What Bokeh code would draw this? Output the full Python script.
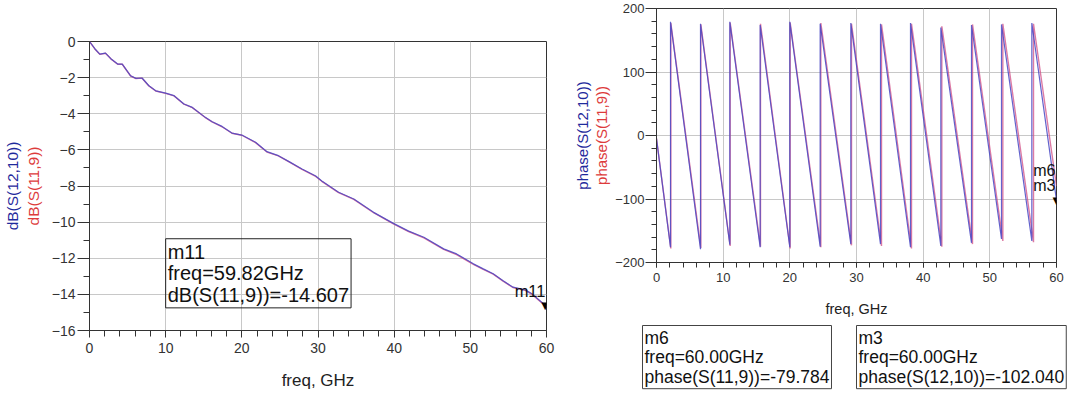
from bokeh.plotting import figure
from bokeh.models import Range1d, SingleIntervalTicker, FixedTicker, Label, LinearAxis
from bokeh.layouts import row, column
from bokeh.embed import file_html
from bokeh.resources import INLINE

FONT = "Liberation Sans"
BLUE_TXT = "#1f2a9c"
RED_TXT = "#dd3b3b"
BLUE_LN = "#4848c4"
RED_LN = "#d24f86"

# ---------------- data: magnitude (dB) ----------------
db_freq = [0, 0.7, 1.35, 2.1, 2.8, 3.7, 4.3, 5.4, 6.1, 6.9, 7.8, 8.7, 10.0, 11.1, 12.4,
           13.5, 15.2, 16.1, 17.4, 18.7, 20.0, 21.8, 23.3, 24.8, 26.2, 27.9, 29.7, 30.5,
           32.7, 34.7, 37.3, 39.9, 41.9, 43.9, 46.5, 48.2, 50.4, 51.7, 53.0, 54.3, 55.6,
           57.2, 58.1, 59.6, 60.0]
db_s12_10 = [0, -0.40, -0.70, -0.64, -0.95, -1.25, -1.25, -1.90, -2.04, -2.02, -2.45, -2.73,
             -2.86, -3.00, -3.46, -3.65, -4.20, -4.44, -4.70, -5.07, -5.18, -5.58, -6.10,
             -6.32, -6.65, -7.06, -7.45, -7.72, -8.35, -8.72, -9.46, -10.07, -10.50, -10.84,
             -11.48, -11.76, -12.31, -12.59, -12.86, -13.24, -13.60, -13.75, -13.97, -14.52,
             -14.64]
db_s11_9 = [0, -0.41, -0.71, -0.65, -0.96, -1.26, -1.26, -1.91, -2.05, -2.03, -2.46, -2.74,
            -2.87, -3.01, -3.47, -3.66, -4.21, -4.45, -4.72, -5.08, -5.19, -5.60, -6.12,
            -6.33, -6.67, -7.08, -7.47, -7.74, -8.37, -8.74, -9.48, -10.10, -10.52, -10.87,
            -11.51, -11.80, -12.34, -12.62, -12.88, -13.27, -13.62, -13.78, -14.00, -14.55,
            -14.66]
m11_freq, m11_db = 59.82, -14.607

# ---------------- data: phase (deg) ----------------
ph_start_freq, ph_start = 0.0, -5.0
ph_end_freq = 60.0
# S(12,10)
wrap_f_s12 = [2.1, 6.6, 11.0, 15.55, 20.0, 24.55, 29.15, 33.6, 38.1, 42.65, 47.25, 51.75, 56.3]
trough_s12 = [-176, -179, -172, -176, -176, -175, -171, -171, -176, -174, -169, -163, -166]
peak_s12 = [179, 176, 179, 174, 179, 176, 177, 176, 177, 170, 174, 175, 177]
end_s12 = -102.040
# S(11,9)
wrap_f_s11 = [2.15, 6.65, 11.05, 15.6, 20.05, 24.65, 29.25, 33.75, 38.25, 42.8, 47.4, 51.95, 56.55]
trough_s11 = [-178, -177, -174, -175, -178, -176, -173, -174, -178, -175, -171, -166, -168]
peak_s11 = [177, 175, 178, 176, 178, 177, 176, 175, 176, 172, 175, 176, 176]
end_s11 = -79.784


def build_phase(wf, tr, pk, end):
    xs, ys = [ph_start_freq], [ph_start]
    for f, t, p in zip(wf, tr, pk):
        xs += [f, f]
        ys += [t, p]
    xs.append(ph_end_freq)
    ys.append(end)
    return xs, ys


def style(p, xint, xminor, yint, yminor, ytick_out, ytick_minor, xtick_out, xtick_minor, fs, ystand, xstand):
    p.xaxis.ticker = SingleIntervalTicker(interval=xint, num_minor_ticks=xminor)
    p.yaxis.ticker = SingleIntervalTicker(interval=yint, num_minor_ticks=yminor)
    for ax in (p.xaxis, p.yaxis):
        ax.axis_line_color = "#333333"
        ax.major_tick_line_color = "#333333"
        ax.minor_tick_line_color = "#333333"
        ax.major_tick_in = 0
        ax.minor_tick_in = 0
        ax.major_label_text_font = FONT
        ax.major_label_text_font_size = fs
        ax.major_label_text_color = "#333333"
        ax.axis_label_text_font = FONT
        ax.axis_label_text_font_style = "normal"
    p.yaxis.major_tick_out = ytick_out
    p.yaxis.minor_tick_out = ytick_minor
    p.xaxis.major_tick_out = xtick_out
    p.xaxis.minor_tick_out = xtick_minor
    p.yaxis.major_label_standoff = ystand
    p.xaxis.major_label_standoff = xstand
    p.grid.grid_line_color = "#c8c8c8"
    p.grid.grid_line_width = 1
    p.outline_line_color = "#333333"
    p.outline_line_alpha = 1
    p.background_fill_color = "white"
    p.border_fill_color = "white"


def extra_label_axis(p, text, color, size, standoff):
    ax = LinearAxis(ticker=FixedTicker(ticks=[]), axis_label=text,
                    axis_label_text_font=FONT, axis_label_text_font_style="normal",
                    axis_label_text_font_size=size, axis_label_text_color=color,
                    axis_label_standoff=standoff, axis_line_color=None,
                    major_tick_out=0, minor_tick_out=0, major_tick_in=0, minor_tick_in=0,
                    major_label_standoff=0)
    p.add_layout(ax, "left")


# ================= left figure =================
pl = figure(width=570, height=394, output_backend="svg", toolbar_location=None,
            x_range=Range1d(0, 60), y_range=Range1d(-16, 0), frame_align=False,
            min_border_left=89, min_border_right=24, min_border_top=41, min_border_bottom=64)
style(pl, 10, 5, 2, 2, 12, 6, 7, 6, "14px", 2, 5)
pl.yaxis.axis_label = "dB(S(11,9))"
pl.yaxis.axis_label_text_color = RED_TXT
pl.yaxis.axis_label_text_font_size = "15.5px"
pl.yaxis.axis_label_standoff = 7
extra_label_axis(pl, "dB(S(12,10))", BLUE_TXT, "15.5px", 1)
pl.xaxis.axis_label = "freq, GHz"
pl.xaxis.axis_label_text_font_size = "17px"
pl.xaxis.axis_label_text_color = "#222222"
pl.xaxis.axis_label_standoff = 15

pl.line(db_freq, db_s11_9, line_color=RED_LN, line_width=1.4, line_alpha=0.8)
pl.line(db_freq, db_s12_10, line_color=BLUE_LN, line_width=1.2, line_alpha=0.85)

pl.add_layout(Label(x=10.0, y=-10.92,
                    text="m11\nfreq=%.2fGHz\ndB(S(11,9))=%.3f" % (m11_freq, m11_db),
                    text_align="left", text_baseline="top", text_font=FONT,
                    text_font_size="20px", text_color="#111111", text_line_height=0.98,
                    border_line_color="#222222", border_line_width=1,
                    background_fill_color=None, padding=2))
pl.add_layout(Label(x=60, y=-13.8, x_offset=-1, text="m11", text_align="right",
                    text_baseline="alphabetic", text_font=FONT, text_font_size="16.5px",
                    text_color="#111111"))
pl.add_layout(Label(x=m11_freq, y=m11_db, text="\u25bc", text_align="center",
                    text_baseline="alphabetic", text_font=FONT, text_font_size="13px",
                    text_color="black"))

# ================= right figure =================
pr = figure(width=510, height=321, output_backend="svg", toolbar_location=None,
            x_range=Range1d(0, 60), y_range=Range1d(-200, 200), frame_align=False,
            min_border_left=85, min_border_right=24, min_border_top=8, min_border_bottom=59)
style(pr, 10, 5, 100, 5, 11, 5, 5, 5, "13px", 1, 5)
pr.yaxis.axis_label = "phase(S(11,9))"
pr.yaxis.axis_label_text_color = RED_TXT
pr.yaxis.axis_label_text_font_size = "15px"
pr.yaxis.axis_label_standoff = 2
extra_label_axis(pr, "phase(S(12,10))", BLUE_TXT, "15px", 0)
pr.xaxis.axis_label = "freq, GHz"
pr.xaxis.axis_label_text_font_size = "14.5px"
pr.xaxis.axis_label_text_color = "#222222"
pr.xaxis.axis_label_standoff = 16

xr, yr = build_phase(wrap_f_s11, trough_s11, peak_s11, end_s11)
xb, yb = build_phase(wrap_f_s12, trough_s12, peak_s12, end_s12)
pr.line(xr, yr, line_color=RED_LN, line_width=1.4, line_alpha=0.75)
pr.line(xb, yb, line_color=BLUE_LN, line_width=1.2, line_alpha=0.85)

pr.add_layout(Label(x=60, y=-54.8, x_offset=-1, text="m6", text_align="right",
                    text_baseline="alphabetic", text_font=FONT, text_font_size="16px",
                    text_color="#111111"))
pr.add_layout(Label(x=60, y=-79.0, x_offset=-1, text="m3", text_align="right",
                    text_baseline="alphabetic", text_font=FONT, text_font_size="16px",
                    text_color="#111111"))
pr.add_layout(Label(x=ph_end_freq, y=end_s12, text="\u25bc", text_align="center",
                    text_baseline="alphabetic", text_font=FONT, text_font_size="13px",
                    text_color="black"))

# ================= marker readout panel (below right plot) =================
pb = figure(width=510, height=73, output_backend="svg", toolbar_location=None,
            x_range=Range1d(0, 510), y_range=Range1d(73, 0), frame_align=False,
            min_border=0, min_border_left=0, min_border_right=0, min_border_top=0,
            min_border_bottom=0, x_axis_type=None, y_axis_type=None)
pb.grid.visible = False
pb.outline_line_color = None
pb.background_fill_color = "white"
pb.border_fill_color = "white"
for bx, name, trace, val in [(72, "m6", "phase(S(11,9))", end_s11),
                             (286, "m3", "phase(S(12,10))", end_s12)]:
    pb.add_layout(Label(x=bx, y=4,
                        text="%s\nfreq=%.2fGHz\n%s=%.3f" % (name, ph_end_freq, trace, val),
                        text_align="left", text_baseline="top", text_font=FONT,
                        text_font_size="17.5px", text_color="#111111", text_line_height=0.98,
                        border_line_color="#444444", border_line_width=1,
                        background_fill_color=None, padding=2))

layout = row(pl, column(pr, pb, spacing=0), spacing=0)
open("out.html", "w").write(file_html(layout, INLINE))
